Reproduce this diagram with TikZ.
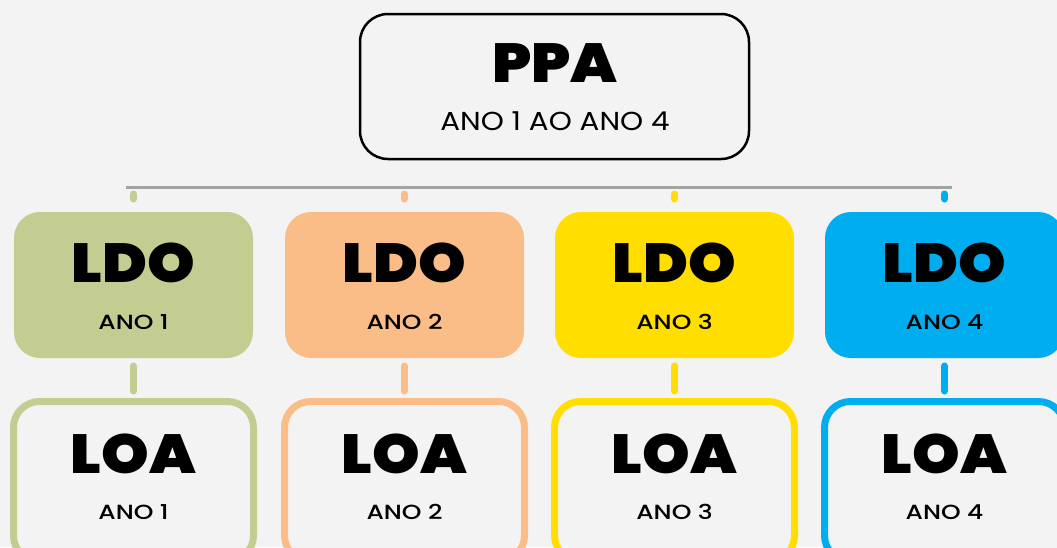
\documentclass[tikz,border=0pt]{standalone}
\usepackage{fontspec}
\setmainfont{Poppins}
\IfFontExistsTF{Poppins Black}{\newfontfamily\titlefam{Poppins Black}[FakeStretch=1.1]}{\newfontfamily\titlefam{Poppins}[FakeStretch=1.1]}
\newfontfamily\subfam{Poppins}[FakeStretch=1.13]
\IfFontExistsTF{Poppins Medium}{\newfontfamily\smallfam{Poppins Medium}[FakeStretch=1.22]}{\newfontfamily\smallfam{Poppins}[FakeStretch=1.22]}
\definecolor{bg}{HTML}{F3F3F3}
\definecolor{cgreen}{HTML}{C3CD92}
\definecolor{corange}{HTML}{FBBD88}
\definecolor{cyellow}{HTML}{FFDE00}
\definecolor{cblue}{HTML}{00AEEF}
\definecolor{bargray}{HTML}{A3A3A3}
\begin{document}
\begin{tikzpicture}[x=1pt,y=-1pt,
  ppabox/.style={draw=black, line width=2.5pt, rounded corners=28pt, fill=bg, minimum width=389pt, minimum height=145pt, inner sep=0pt, outer sep=0pt},
  ldobox/.style={rounded corners=26pt, minimum width=239pt, minimum height=146pt, inner sep=0pt, outer sep=0pt},
  loabox/.style={line width=7pt, rounded corners=26pt, fill=bg, minimum width=240pt, minimum height=160pt, inner sep=0pt, outer sep=0pt},
  title/.style={font=\titlefam\fontsize{55}{55}\selectfont, inner sep=0pt},
  ppasub/.style={font=\subfam\fontsize{26}{26}\selectfont, inner sep=0pt},
  sub/.style={font=\smallfam\fontsize{20.5}{20.5}\selectfont, inner sep=0pt},
  stub/.style={line width=7pt, line cap=round},
  bar/.style={draw=bargray, line width=3pt}]
\useasboundingbox (0,0) rectangle (1057,547);
\clip (0,0) rectangle (1057,547);
\fill[bg] (0,0) rectangle (1057,547);
\node[ppabox] (ppa) at (554.5,86.5) {};
\node[title] (ppat) at (555,63.5) {PPA};
\node[ppasub] (ppas) at (555,121) {ANO 1 AO ANO 4};
\coordinate (barL) at (126,187);
\coordinate (barR) at (952,187);
\draw[bar] (barL) -- (barR);
\foreach \i/\x/\c in {1/133.5/cgreen, 2/404.5/corange, 3/674.5/cyellow, 4/944.5/cblue} {
  \node[ldobox, fill=\c] (ldo\i) at (\x,285) {};
  \node[title] (ldot\i) at (\x,262.5) {LDO};
  \node[sub] (ldos\i) at (\x,322) {ANO \i};
  \node[loabox, draw=\c] (loa\i) at (\x,481.5) {};
  \node[title] (loat\i) at (\x,454) {LOA};
  \node[sub] (loas\i) at (\x,512) {ANO \i};
  \coordinate (bar\i) at (ldo\i.north |- barL);
  \draw[stub, draw=\c, shorten <=7pt, shorten >=13pt] (bar\i) -- (ldo\i.north);
  \draw[stub, draw=\c, shorten <=8pt, shorten >=10.5pt] (ldo\i.south) -- (loa\i.north);
}
\end{tikzpicture}
\end{document}
